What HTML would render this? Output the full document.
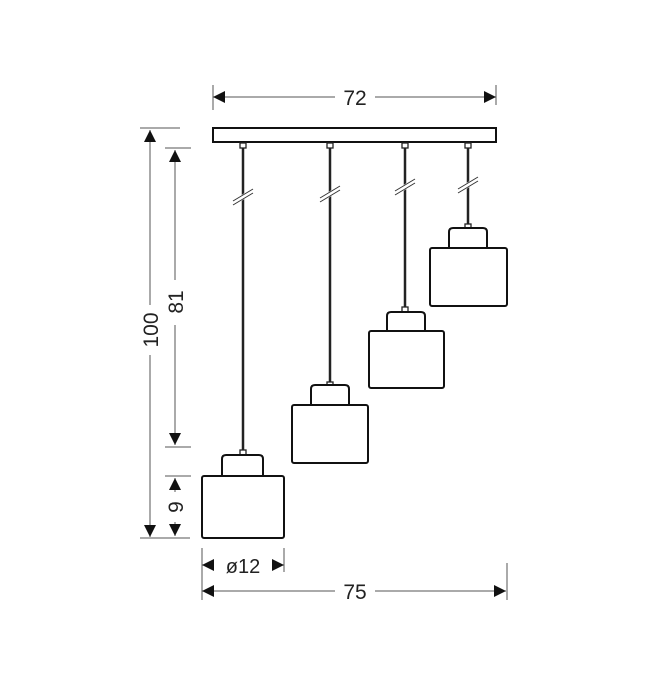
<!DOCTYPE html>
<html><head><style>body{margin:0;background:#fff}svg{display:block}text{font-family:"Liberation Sans",sans-serif;fill:#222}</style></head>
<body>
<svg width="650" height="677" viewBox="0 0 650 677" xmlns="http://www.w3.org/2000/svg">
<defs>
<marker id="a" viewBox="0 0 10 10" refX="10" refY="5" markerWidth="12" markerHeight="12" markerUnits="userSpaceOnUse" orient="auto-start-reverse"><path d="M10,5 L0,0 L0,10 Z" fill="#111"/></marker>
</defs>
<g stroke="#555" stroke-width="1" fill="none">
<!-- 72 -->
<line x1="213" y1="85" x2="213" y2="110"/><line x1="496" y1="85" x2="496" y2="105"/>
<line x1="213" y1="97" x2="335" y2="97" marker-start="url(#a)"/>
<line x1="375" y1="97" x2="496" y2="97" marker-end="url(#a)"/>
<!-- 100 -->
<line x1="140" y1="128" x2="180" y2="128"/>
<line x1="150" y1="130" x2="150" y2="305" marker-start="url(#a)"/>
<line x1="150" y1="355" x2="150" y2="537" marker-end="url(#a)"/>
<line x1="140" y1="538" x2="190" y2="538"/>
<!-- 81 -->
<line x1="165" y1="148" x2="191" y2="148"/>
<line x1="175" y1="150" x2="175" y2="280" marker-start="url(#a)"/>
<line x1="175" y1="325" x2="175" y2="445" marker-end="url(#a)"/>
<line x1="165" y1="447" x2="191" y2="447"/>
<!-- 9 -->
<line x1="165" y1="476" x2="191" y2="476"/>
<line x1="175" y1="478" x2="175" y2="492" marker-start="url(#a)"/>
<line x1="175" y1="522" x2="175" y2="536" marker-end="url(#a)"/>
<!-- ø12 -->
<line x1="202" y1="548" x2="202" y2="600"/><line x1="284" y1="548" x2="284" y2="572"/>
<line x1="202" y1="565" x2="214" y2="565" marker-start="url(#a)"/>
<line x1="272" y1="565" x2="284" y2="565" marker-end="url(#a)"/>
<!-- 75 -->
<line x1="507" y1="563" x2="507" y2="600"/>
<line x1="202" y1="591" x2="335" y2="591" marker-start="url(#a)"/>
<line x1="375" y1="591" x2="506" y2="591" marker-end="url(#a)"/>
</g>
<text x="355" y="105" font-size="21" text-anchor="middle">72</text>
<text x="355" y="599" font-size="21" text-anchor="middle">75</text>
<text x="243" y="573" font-size="20" text-anchor="middle">ø12</text>
<text transform="translate(158,330) rotate(-90)" font-size="21" text-anchor="middle">100</text>
<text transform="translate(183,302) rotate(-90)" font-size="21" text-anchor="middle">81</text>
<text transform="translate(183,507) rotate(-90)" font-size="21" text-anchor="middle">9</text>
<g stroke="#111" stroke-width="2" fill="#fff">
<rect x="213" y="128" width="283" height="14"/>
</g>
<g fill="none" stroke="#222">
<line x1="243" y1="147" x2="243" y2="453" stroke-width="2.5"/>
<line x1="330" y1="147" x2="330" y2="385" stroke-width="2.5"/>
<line x1="405" y1="147" x2="405" y2="310" stroke-width="2.5"/>
<line x1="468" y1="147" x2="468" y2="228" stroke-width="2.5"/>
</g>
<g fill="#fff" stroke="#222" stroke-width="1.3">
<rect x="240" y="143" width="6" height="5"/><rect x="327" y="143" width="6" height="5"/><rect x="402" y="143" width="6" height="5"/><rect x="465" y="143" width="6" height="5"/>
<rect x="240" y="450" width="6" height="5"/><rect x="327" y="382" width="6" height="5"/><rect x="402" y="307" width="6" height="5"/><rect x="465" y="224" width="6" height="5"/>
</g>
<g stroke="#fff" stroke-width="5"><line x1="235" y1="202" x2="251" y2="192"/><line x1="322" y1="199" x2="338" y2="189"/><line x1="397" y1="192" x2="413" y2="182"/><line x1="460" y1="190" x2="476" y2="180"/></g>
<g stroke="#333" stroke-width="1">
<line x1="233" y1="201" x2="253" y2="189"/><line x1="233" y1="205" x2="253" y2="193"/>
<line x1="320" y1="198" x2="340" y2="186"/><line x1="320" y1="202" x2="340" y2="190"/>
<line x1="395" y1="191" x2="415" y2="179"/><line x1="395" y1="195" x2="415" y2="183"/>
<line x1="458" y1="189" x2="478" y2="177"/><line x1="458" y1="193" x2="478" y2="181"/>
</g>
<g fill="#fff" stroke="#111" stroke-width="2">
<path d="M222,476 V459 Q222,455 226,455 H259 Q263,455 263,459 V476"/>
<rect x="202" y="476" width="82" height="62" rx="2"/>
<path d="M311,405 V389 Q311,385 315,385 H345 Q349,385 349,389 V405"/>
<rect x="292" y="405" width="76" height="58" rx="2"/>
<path d="M387,332 V316 Q387,312 391,312 H421 Q425,312 425,316 V332"/>
<rect x="369" y="331" width="75" height="57" rx="2"/>
<path d="M449,248 V232 Q449,228 453,228 H483 Q487,228 487,232 V248"/>
<rect x="430" y="248" width="77" height="58" rx="2"/>
</g>
</svg>
</body></html>
